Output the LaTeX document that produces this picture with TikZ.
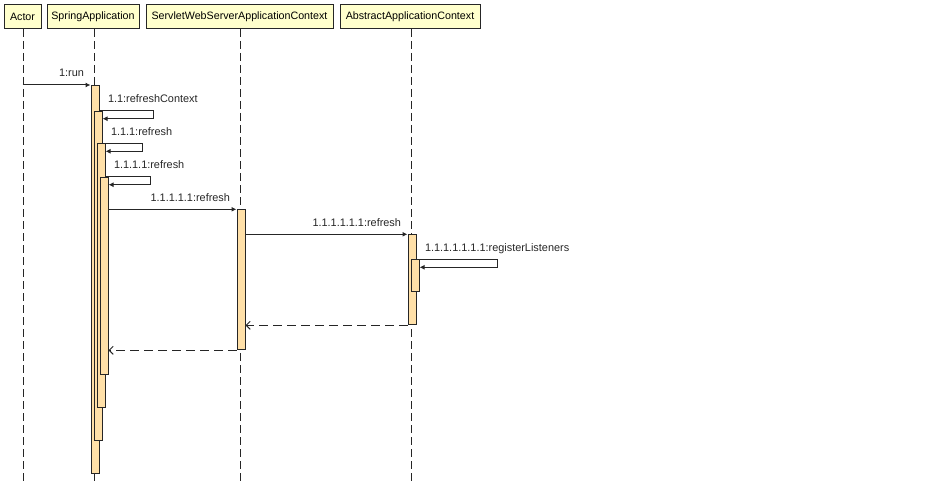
\documentclass[tikz,border=0pt]{standalone}
\usepackage{fontspec}
\setmainfont{Liberation Sans}
\usetikzlibrary{arrows.meta, positioning, calc}

\definecolor{cabec}{RGB}{255,255,204}
\definecolor{ativ}{RGB}{255,224,168}
\definecolor{linha}{RGB}{38,38,38}

\tikzset{
  cabeca/.style={draw=linha, fill=cabec, line width=1pt, inner sep=0pt,
    minimum height=24pt, font=\fontsize{10.7}{12}\selectfont},
  vida/.style={linha, line width=1pt, dash pattern=on 8pt off 4pt},
  barra/.style={draw=linha, fill=ativ, line width=1pt, minimum width=8pt,
    inner sep=0pt, anchor=north west},
  msg/.style={linha, line width=1pt, -{Latex[length=5pt, width=5pt]}},
  ret/.style={linha, line width=1pt, dash pattern=on 9pt off 5pt,
    -{Straight Barb[length=4pt, width=8pt]}},
  rot/.style={font=\fontsize{10.9}{12}\selectfont, inner sep=0pt},
}

\newcommand{\ativacao}[4]{%
  % #1 = nome, #2 = x esquerdo, #3 = y topo, #4 = y base
  \node[barra, minimum height={(#4-#3)*1pt}] (#1) at (#2,#3) {};
}

\begin{document}
\begin{tikzpicture}[x=1pt, y=-1pt]
    \useasboundingbox (0,0) rectangle (939,484);

    \pgfmathsetmacro{\xact}{23}
    \pgfmathsetmacro{\xspr}{94.5}
    \pgfmathsetmacro{\xsrv}{240.5}
    \pgfmathsetmacro{\xabs}{411.5}

    % cabeçalhos
    \node[cabeca, minimum width=37pt] (act) at (22.5,17) {Actor};
    \node[cabeca, minimum width=92pt] (spr) at (93,17) {SpringApplication};
    \node[cabeca, minimum width=187pt] (srv) at (239.5,17) {ServletWebServerApplicationContext};
    \node[cabeca, minimum width=140pt] (abs) at (410,17) {AbstractApplicationContext};

    % linhas de vida
    \draw[vida] (\xact,29) -- (\xact,484);
    \draw[vida] (\xspr,29) -- (\xspr,484);
    \draw[vida] (\xsrv,29) -- (\xsrv,484);
    \draw[vida] (\xabs,29) -- (\xabs,484);

    % ativações
    \ativacao{s1}{\xspr-4}{85}{473}
    \ativacao{s2}{\xspr-1}{110.7}{440}
    \ativacao{s3}{\xspr+2}{143.3}{407}
    \ativacao{s4}{\xspr+5}{176.7}{374.3}
    \ativacao{sv}{\xsrv-4}{209.3}{349.3}
    \ativacao{ab1}{\xabs-4}{234.3}{324.3}
    \ativacao{ab2}{\xabs-1}{259.3}{291.3}

    % mensagens
    \draw[msg] (act.south |- s1.north west) -- (s1.north west)
        node[rot, pos=1, anchor=base east, xshift=-6pt, yshift=8pt] {1:run};
    \draw[msg] (s1.east |- s2.north) node[rot, anchor=base west, xshift=8pt, yshift=8pt] {1.1:refreshContext}
        -- ++(54,0) |- ($(s2.north east)+(0,8)$);
    \draw[msg] (s2.east |- s3.north) node[rot, anchor=base west, xshift=8pt, yshift=8pt] {1.1.1:refresh}
        -- ++(40,0) |- ($(s3.north east)+(0,8)$);
    \draw[msg] (s3.east |- s4.north) node[rot, anchor=base west, xshift=8pt, yshift=8pt] {1.1.1.1:refresh}
        -- ++(45,0) |- ($(s4.north east)+(0,8)$);
    \draw[msg] (s4.east |- sv.north) -- (sv.north west)
        node[rot, pos=1, anchor=base east, xshift=-6pt, yshift=8pt] {1.1.1.1.1:refresh};
    \draw[msg] (sv.east |- ab1.north) -- (ab1.north west)
        node[rot, pos=1, anchor=base east, xshift=-6pt, yshift=8pt] {1.1.1.1.1.1:refresh};
    \draw[msg] (ab1.east |- ab2.north) node[rot, anchor=base west, xshift=8pt, yshift=8pt] {1.1.1.1.1.1.1:registerListeners}
        -- ++(81,0) |- ($(ab2.north east)+(0,8)$);

    % retornos
    \draw[ret] (ab1.south west) -- (ab1.south west -| sv.east);
    \draw[ret] (sv.south west) -- (sv.south west -| s4.east);
\end{tikzpicture}
\end{document}
